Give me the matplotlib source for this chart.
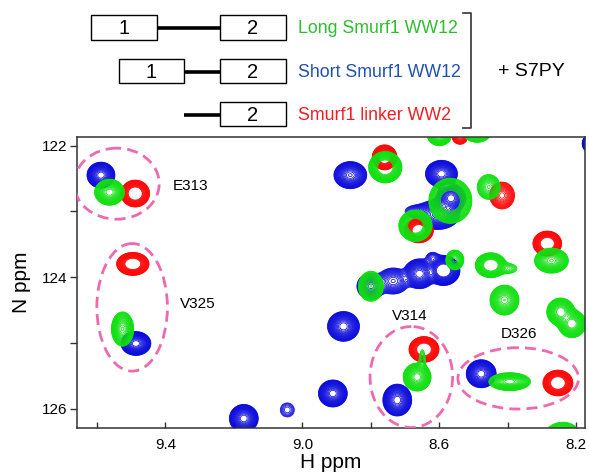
import numpy as np
import matplotlib
matplotlib.use("Agg")
import matplotlib.pyplot as plt
from matplotlib.patches import Ellipse, Rectangle

plt.rcParams['font.family'] = ['Liberation Sans', 'DejaVu Sans']

# peak lists: 1H ppm, 15N ppm, height, sigma H, sigma N
# Short Smurf1 WW12 (blue)
blue_h = [9.588, 9.486, 8.860, 8.594, 8.566, 8.605, 8.665, 8.658, 8.735, 8.800,
          8.588, 8.620, 8.880, 8.911, 9.044, 9.171, 8.723, 8.478, 8.160]
blue_n = [122.45, 125.01, 122.45, 122.43, 122.80, 123.05, 123.00, 123.95, 124.06, 124.14,
          123.90, 123.70, 124.75, 125.77, 126.02, 126.15, 125.87, 125.47, 121.97]
blue_amp = [35, 35, 30, 35, 35, 30, 4, 35, 12, 20,
            60, 3, 35, 35, 2.5, 35, 35, 35, 20]
blue_sh = [0.0153, 0.0164, 0.0184, 0.0175, 0.0164, 0.0246, 0.0210, 0.0175, 0.0209, 0.0167,
           0.0168, 0.0118, 0.0175, 0.0158, 0.0151, 0.0158, 0.0158, 0.0164, 0.0095]
blue_sn = [0.074, 0.068, 0.079, 0.077, 0.080, 0.087, 0.055, 0.085, 0.089, 0.081,
           0.080, 0.051, 0.085, 0.077, 0.079, 0.080, 0.091, 0.080, 0.056]

# Long Smurf1 WW12 (green)
green_h = [9.563, 9.525, 8.758, 8.568, 8.670, 8.456, 8.273, 8.450, 8.400, 8.555,
           8.800, 8.410, 8.246, 8.213, 8.600, 8.490, 8.240, 8.665, 8.650, 8.395]
green_n = [122.71, 124.79, 122.33, 122.84, 123.22, 122.63, 123.75, 123.82, 123.87, 123.74,
           124.14, 124.35, 124.53, 124.71, 121.85, 121.80, 126.42, 125.52, 125.28, 125.59]
green_amp = [35, 30, 70, 70, 70, 12, 30, 70, 3, 15,
             25, 25, 40, 40, 25, 30, 35, 35, 3, 35]
green_sh = [0.0164, 0.0125, 0.0167, 0.0216, 0.0167, 0.0150, 0.0190, 0.0156, 0.0177, 0.0113,
            0.0144, 0.0167, 0.0150, 0.0150, 0.0138, 0.0156, 0.0197, 0.0153, 0.0060, 0.0229]
green_sn = [0.074, 0.100, 0.082, 0.118, 0.082, 0.085, 0.073, 0.065, 0.051, 0.065,
            0.090, 0.090, 0.078, 0.078, 0.060, 0.058, 0.080, 0.080, 0.120, 0.051]

# Smurf1 linker WW2 (red)
red_h = [9.488, 9.495, 8.760, 8.660, 8.417, 8.285, 8.540, 8.645, 8.254]
red_n = [122.73, 123.80, 122.18, 123.29, 122.76, 123.49, 121.86, 125.10, 125.61]
red_amp = [80, 80, 80, 70, 15, 80, 15, 80, 80]
red_sh = [0.0142, 0.0160, 0.0122, 0.0146, 0.0156, 0.0142, 0.0100, 0.0148, 0.0148]
red_sn = [0.069, 0.059, 0.064, 0.065, 0.088, 0.064, 0.052, 0.066, 0.066]

# assigned residues
labels = ["E313", "V325", "V314", "D326"]
label_h = [9.325, 9.304, 8.687, 8.368]
label_n = [122.61, 124.41, 124.59, 124.87]
circ_h = [9.542, 9.497, 8.682, 8.370]
circ_n = [122.58, 124.46, 125.52, 125.54]
circ_w = [0.248, 0.206, 0.241, 0.352]
circ_ht = [1.08, 1.94, 1.535, 0.933]

legend_names = ["Long Smurf1 WW12", "Short Smurf1 WW12", "Smurf1 linker WW2"]
legend_colors = ['#2DBE2D', '#1F50B4', '#F21C24']


def spectrum(hh, nn, h, n, amp, sh, sn):
    z = np.zeros_like(hh)
    for i in range(len(h)):
        z += amp[i] * np.exp(-0.5 * ((hh - h[i]) / sh[i]) ** 2
                             - 0.5 * ((nn - n[i]) / sn[i]) ** 2)
    return z


fig = plt.figure(figsize=(5.89, 4.73), dpi=100)

# schematic of constructs, drawn in pixel coords
top = fig.add_axes([0, 0, 1, 1])
top.set_xlim(0, 589)
top.set_ylim(473, 0)
top.axis('off')
top.patch.set_alpha(0)

rows = [(91, 157, 15, 40, 27.7), (119, 184, 59, 83.5, 71.7), (None, 184, 102, 126, 115)]
for b1_left, b1_right, y0, y1, ym in rows:
    if b1_left is not None:
        top.add_patch(Rectangle((b1_left, y0), b1_right - b1_left, y1 - y0,
                                fc='white', ec='black', lw=1.0))
        top.text((b1_left + b1_right) / 2, ym + 0.5, "1", ha='center', va='center', fontsize=14.5)
    top.plot([b1_right, 220], [ym, ym], color='black', lw=2.6, solid_capstyle='butt')
    top.add_patch(Rectangle((220, y0), 66, y1 - y0, fc='white', ec='black', lw=1.0))
    top.text(253, ym + 0.5, "2", ha='center', va='center', fontsize=14.5)

for i, name in enumerate(legend_names):
    top.text(298, rows[i][4] + 0.5, name, color=legend_colors[i], ha='left', va='center',
             fontsize=12.8)

top.plot([463, 471, 471, 463], [13.3, 13.3, 128.3, 128.3], color='#333333', lw=1.2)
top.text(498, 71.7, "+ S7PY", ha='left', va='center', fontsize=14)

# spectrum panel
ax = fig.add_axes([0.1307, 0.0951, 0.8625, 0.6153])
hg = np.linspace(9.72, 8.10, 1000)
ng = np.linspace(121.55, 126.65, 560)
HH, NN = np.meshgrid(hg, ng)
levels = 1.0 * 1.165 ** np.arange(23)

zb = spectrum(HH, NN, blue_h, blue_n, blue_amp, blue_sh, blue_sn)
zr = spectrum(HH, NN, red_h, red_n, red_amp, red_sh, red_sn)
zg = spectrum(HH, NN, green_h, green_n, green_amp, green_sh, green_sn)
ax.contour(HH, NN, zb, levels=levels, colors='#0A0ADC', linewidths=0.55)
ax.contour(HH, NN, zr, levels=levels, colors='#FF0A0A', linewidths=0.55)
ax.contour(HH, NN, zg, levels=levels, colors='#10E010', linewidths=0.55)

for i in range(len(labels)):
    ax.add_patch(Ellipse((circ_h[i], circ_n[i]), circ_w[i], circ_ht[i], fill=False,
                         ec='#EE6AAE', lw=2.0, ls=(0, (4, 2.2)), zorder=4))
    ax.text(label_h[i], label_n[i], labels[i], ha='center', va='center', fontsize=11, zorder=5)

ax.set_xlim(9.658, 8.175)
ax.set_ylim(126.295, 121.87)
ax.set_xticks([9.4, 9.0, 8.6, 8.2])
ax.set_xticklabels(["9.4", "9.0", "8.6", "8.2"])
ax.set_xticks([9.6, 9.2, 8.8, 8.4], minor=True)
ax.set_yticks([122, 124, 126])
ax.set_yticks([123, 125], minor=True)
ax.tick_params(axis='x', which='both', direction='in', length=4, width=1, labelsize=11, pad=7,
               colors='#333333', labelcolor='black')
ax.tick_params(axis='y', which='both', direction='out', length=5, width=1, labelsize=11, pad=2,
               colors='#333333', labelcolor='black')
for s in ax.spines.values():
    s.set_color('#333333')
    s.set_linewidth(1.1)
ax.set_xlabel("H ppm", fontsize=15, labelpad=1)
ax.set_ylabel("N ppm", fontsize=15, labelpad=8)

fig.savefig("out.png", dpi=100)
